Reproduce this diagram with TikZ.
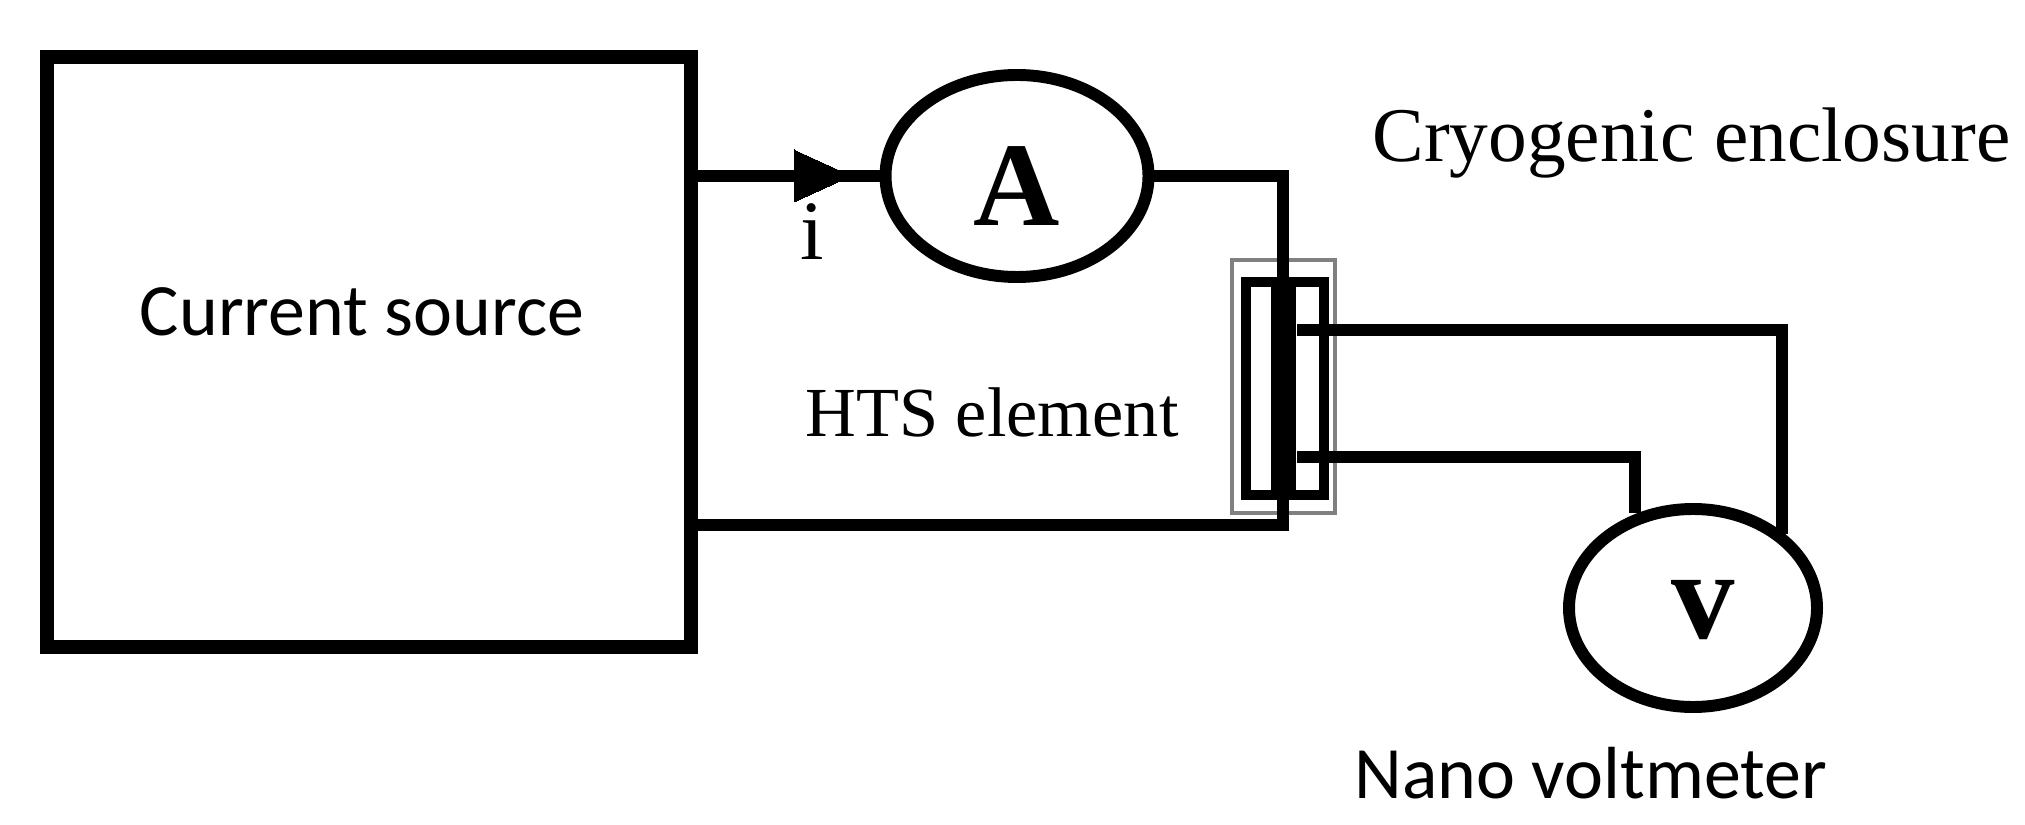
\documentclass[tikz,border=0pt]{standalone}
\usepackage{fontspec}
\setmainfont{Liberation Serif}
\newfontfamily\calib{Carlito}
\usetikzlibrary{shapes.geometric,arrows.meta}
\begin{document}
\begin{tikzpicture}[x=0.01cm,y=-0.01cm,
  wire/.style={line width=3.2pt,line join=miter},
  meter/.style={ellipse,draw,line width=3.4pt,inner sep=0pt},
  slab/.style={font=\calib\fontsize{21}{25}\selectfont}]
\useasboundingbox (0,0) rectangle (2025,825);
% current source
\node[draw,line width=4pt,minimum width=644*0.01cm,minimum height=590*0.01cm,inner sep=0pt,anchor=north west] (src) at (40,50) {};
\node[slab] (srct) at (362,312) {Current source};
% ammeter
\node[meter,minimum width=263*0.01cm,minimum height=202*0.01cm] (A) at (1017,176) {};
\node[font=\fontsize{34}{40}\selectfont\bfseries] (At) at (1017,186) {A};
% voltmeter
\node[meter,minimum width=248*0.01cm,minimum height=198*0.01cm] (V) at (1693,608) {};
\node[font=\fontsize{36}{40}\selectfont\bfseries] (Vt) at (1703,610) {v};
% HTS element
\node[draw=gray,line width=1.3pt,minimum width=103*0.01cm,minimum height=253*0.01cm,inner sep=0pt] (encl) at (1283.5,386.5) {};
\node[draw,line width=2.6pt,minimum width=78*0.01cm,minimum height=213*0.01cm,inner sep=0pt] (hts) at (1285,388.5) {};
\node[fill,minimum width=25*0.01cm,minimum height=213*0.01cm,inner sep=0pt] (bar) at (1283.5,388.5) {};
% coordinates
\coordinate (aout) at (1283,176);
\coordinate (bot) at (1283,525);
\coordinate (u1) at (1297,330);
\coordinate (u2) at (1782,330);
\coordinate (l1) at (1297,457);
\coordinate (l2) at (1635,457);
\coordinate (l3) at (1635,513);
% wires
\draw[wire] (src.east |- aout) -- (A.west);
\draw[line width=0pt,fill] (794,150) -- (851,176) -- (794,202) -- cycle;
\draw[wire] (A.east) -- (aout) -- (bot) -- (src.east |- bot);
\draw[wire] (u1) -- (u2) -- (u2 |- V.north east);
\draw[wire] (l1) -- (l2) -- (l3);
% labels
\node[font=\fontsize{24}{28}\selectfont] (i) at (812,232) {i};
\node[font=\fontsize{20}{24}\selectfont,anchor=west] (htsl) at (793,412) {HTS element};
\node[font=\fontsize{22}{26}\selectfont,anchor=west] (cryo) at (1360,143) {Cryogenic enclosure};
\node[slab,anchor=base west] (nv) at (1342,798) {Nano voltmeter};
\end{tikzpicture}
\end{document}
